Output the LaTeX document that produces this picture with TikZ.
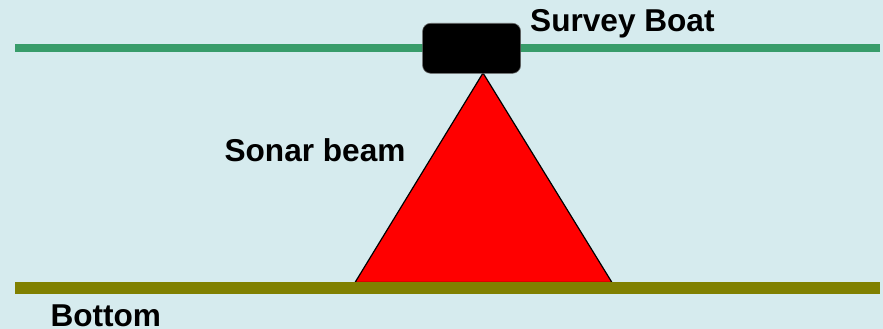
\documentclass[tikz,border=0pt]{standalone}
\usepackage{fontspec}
\setmainfont{Liberation Sans}
\definecolor{bg}{RGB}{214,235,238}
\definecolor{surface}{RGB}{56,156,106}
\definecolor{seabed}{RGB}{128,128,0}
\definecolor{beam}{RGB}{255,0,0}
\tikzset{
  lbl/.style={font=\fontsize{31.6}{38}\selectfont\bfseries, inner sep=0pt, anchor=base west, text=black},
}
\begin{document}
\begin{tikzpicture}[x=1pt,y=-1pt]
\fill[bg] (0,0) rectangle (883,329);
\useasboundingbox (0,0) rectangle (883,329);
% water surface
\coordinate (sL) at (15,48);
\coordinate (sR) at (880,48);
\draw[surface, line width=8pt] (sL) -- (sR);
% sonar beam
\coordinate (apex) at (483,73);
\coordinate (bL) at (355,282.5);
\coordinate (bR) at (612,282.5);
\filldraw[fill=beam, draw=black, line width=1.2pt, line join=miter] (apex) -- (bR) -- (bL) -- cycle;
% bottom
\coordinate (gL) at (15,288);
\coordinate (gR) at (880,288);
\draw[seabed, line width=12pt] (gL) -- (gR);
% boat
\node[fill=black, draw=black!60, line width=0.6pt, rounded corners=8pt, minimum width=98pt, minimum height=50pt, inner sep=0pt] (boat) at (471.6,48.3) {};
% labels
\node[lbl] (boatlbl) at (530,32) {Survey Boat};
\node[lbl] (beamlbl) at (224.4,161.5) {Sonar beam};
\node[lbl] (bottomlbl) at (50.3,326.8) {Bottom};
\end{tikzpicture}
\end{document}
